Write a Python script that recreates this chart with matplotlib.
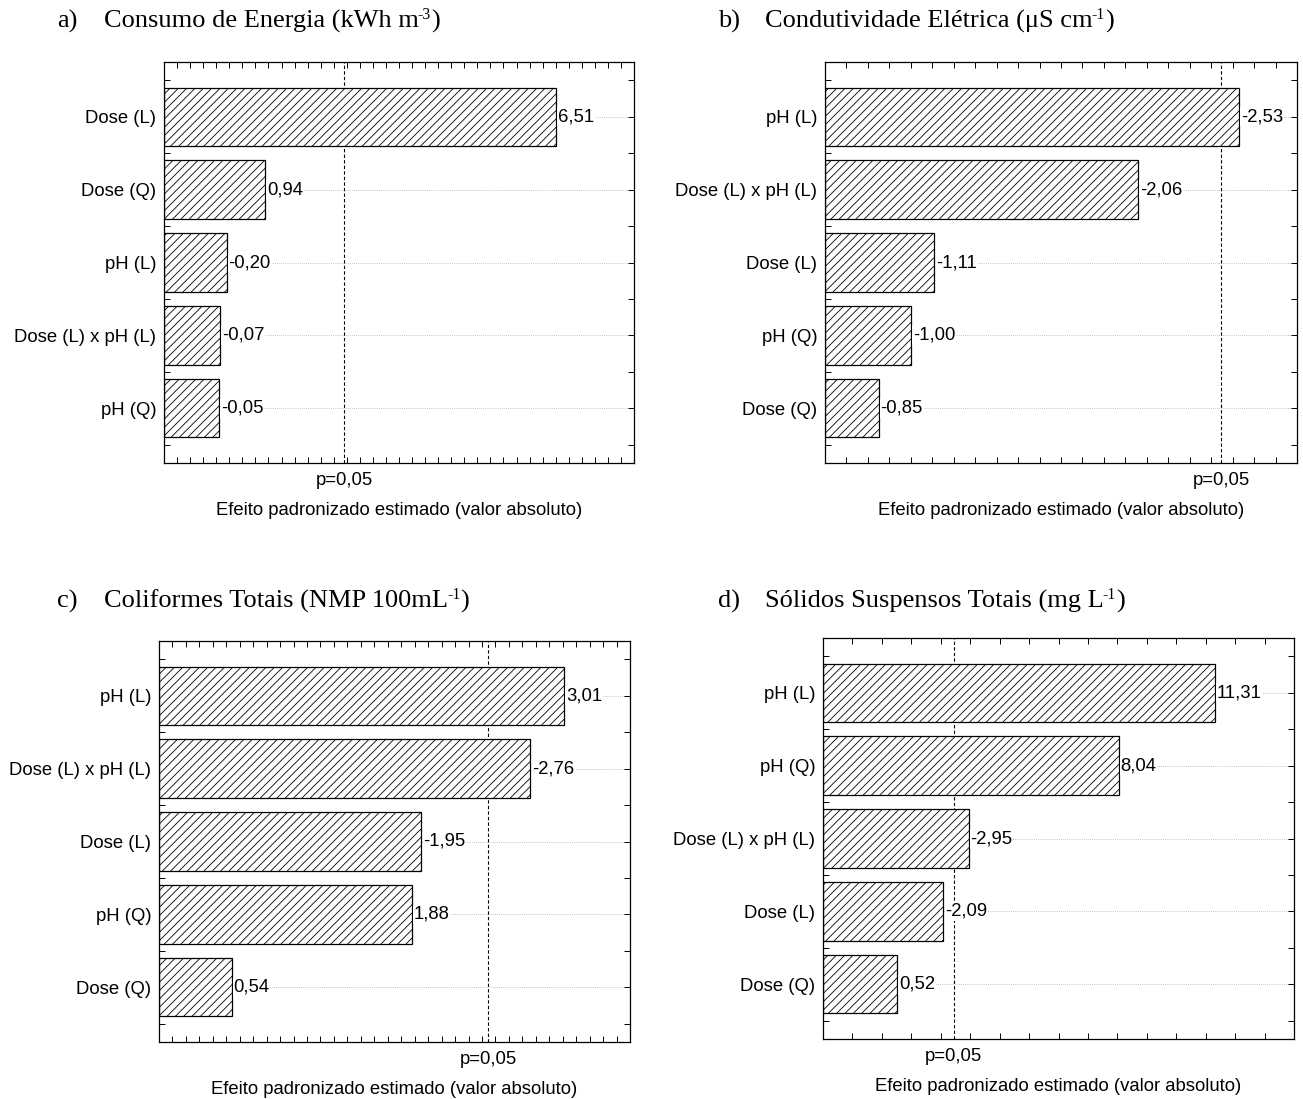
import numpy as np
import matplotlib.pyplot as plt
from matplotlib.ticker import MultipleLocator
import matplotlib.transforms as mtransforms

plt.rcParams['font.family'] = ['Liberation Sans', 'DejaVu Sans']
plt.rcParams['hatch.linewidth'] = 0.6

# data, top to bottom
labels_a = ['Dose (L)', 'Dose (Q)', 'pH (L)', 'Dose (L) x pH (L)', 'pH (Q)']
values_a = [6.51, 0.94, -0.20, -0.07, -0.05]

labels_b = ['pH (L)', 'Dose (L) x pH (L)', 'Dose (L)', 'pH (Q)', 'Dose (Q)']
values_b = [-2.53, -2.06, -1.11, -1.00, -0.85]

labels_c = ['pH (L)', 'Dose (L) x pH (L)', 'Dose (L)', 'pH (Q)', 'Dose (Q)']
values_c = [3.01, -2.76, -1.95, 1.88, 0.54]

labels_d = ['pH (L)', 'pH (Q)', 'Dose (L) x pH (L)', 'Dose (L)', 'Dose (Q)']
values_d = [11.31, 8.04, -2.95, -2.09, 0.52]

t_crit = 2.447  # p = 0,05

# title: (main text, superscript)
titles = [('Consumo de Energia (kWh m', '-3'),
          ('Condutividade Elétrica (μS cm', '-1'),
          ('Coliformes Totais (NMP 100mL', '-1'),
          ('Sólidos Suspensos Totais (mg L', '-1')]
letters = ['a)', 'b)', 'c)', 'd)']

W, H = 1303, 1099
fig = plt.figure(figsize=(W / 100, H / 100), dpi=100)
renderer = fig.canvas.get_renderer()

# axes boxes in pixels: left, top, right, bottom
boxes = [(164, 62, 634, 463), (825, 62, 1297, 463),
         (159, 641, 630, 1042), (823, 638, 1294, 1039)]
xlims = [(-1, 8), (0.6, 2.8), (0, 3.5), (-2, 14)]
xminor = [0.25, 0.1, 0.1, 1.0]
title_pos = [(57, 104, 28), (718, 765, 28), (57, 104, 608), (718, 765, 608)]

panels = [(labels_a, values_a), (labels_b, values_b),
          (labels_c, values_c), (labels_d, values_d)]

fs = 13.3
tfs = 19

def put(xpx, ypx, s, size):
    t = fig.text(xpx / W, 1 - ypx / H, s, fontsize=size,
                 family='Liberation Serif', va='baseline', ha='left')
    return t.get_window_extent(renderer).x1

for i, (labs, vals) in enumerate(panels):
    l, t, r, b = boxes[i]
    ax = fig.add_axes([l / W, 1 - b / H, (r - l) / W, (b - t) / H])
    x0, x1 = xlims[i]
    y = np.arange(len(labs))
    ax.set_xlim(x0, x1)
    ax.set_ylim(len(labs) - 0.25, -0.75)

    for yy in y:
        ax.axhline(yy, color='#b0b0b0', lw=0.6, ls=(0, (1, 1.5)), zorder=0)

    widths = [abs(v) - x0 for v in vals]
    ax.barh(y, widths, left=x0, height=0.8, color='white', edgecolor='black',
            hatch='////', linewidth=0.9, zorder=2)
    for yy, v in zip(y, vals):
        ax.text(abs(v) + (x1 - x0) * 0.004, yy, f'{v:.2f}'.replace('.', ','),
                ha='left', va='center', fontsize=fs, zorder=3,
                bbox=dict(facecolor='white', edgecolor='none', pad=0.5))

    ax.axvline(t_crit, color='black', lw=0.8, ls=(0, (3, 2)), zorder=1)

    ax.set_yticks(y)
    ax.set_yticklabels(labs, fontsize=fs)
    ax.yaxis.set_minor_locator(MultipleLocator(0.5))
    ax.set_xticks([])
    ax.xaxis.set_minor_locator(MultipleLocator(xminor[i]))
    ax.tick_params(axis='both', which='both', direction='in', top=True,
                   right=True, length=4, width=0.7)
    ax.tick_params(axis='y', which='major', pad=5.5)
    for s in ax.spines.values():
        s.set_linewidth(0.9)

    trans = mtransforms.blended_transform_factory(ax.transData, ax.transAxes)
    ax.text(t_crit, -0.044, 'p=0,05', transform=trans, ha='center',
            va='center', fontsize=fs)
    ax.text(0.5, -0.119, 'Efeito padronizado estimado (valor absoluto)',
            transform=ax.transAxes, ha='center', va='center', fontsize=fs)

    # title with raised superscript
    lx, tx, ty = title_pos[i]
    main, sup = titles[i]
    put(lx, ty, letters[i], tfs)
    xe = put(tx, ty, main, tfs)
    xe = put(xe - 1, ty - 9, sup, tfs * 0.6)
    put(xe, ty, ')', tfs)

fig.savefig('out.png', dpi=100)
